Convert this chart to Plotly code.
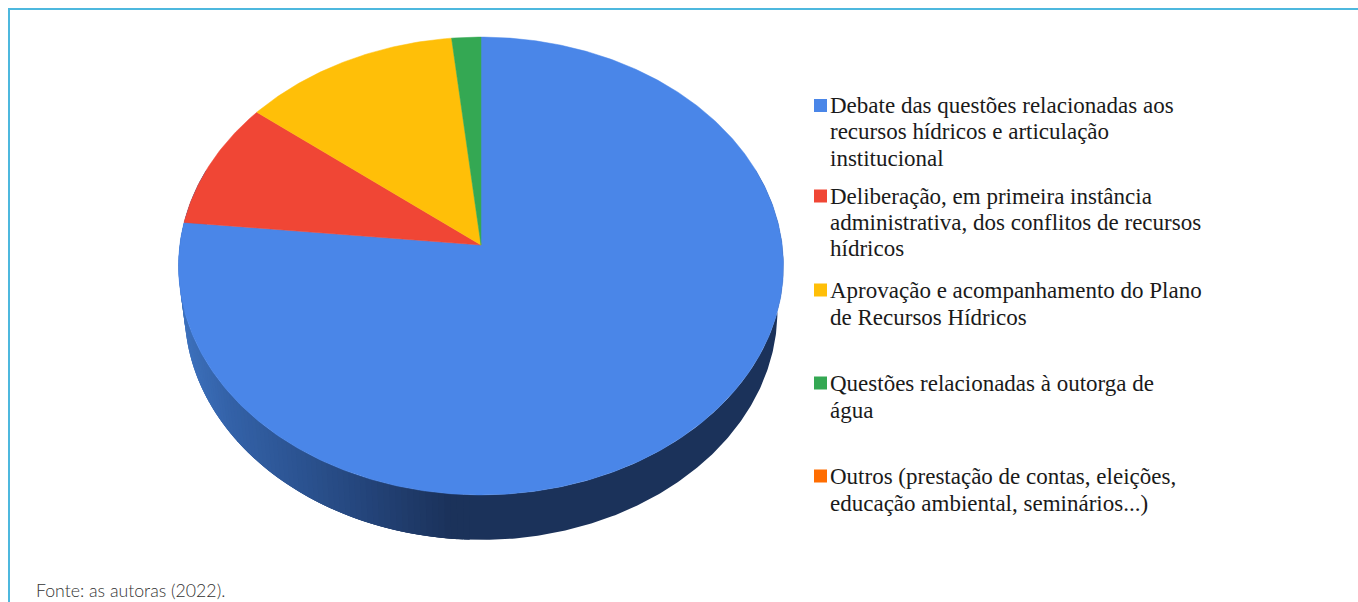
import numpy as np
import plotly.graph_objects as go

categories = [
    "Debate das questões relacionadas aos recursos hídricos e articulação institucional",
    "Deliberação, em primeira instância administrativa, dos conflitos de recursos hídricos",
    "Aprovação e acompanhamento do Plano de Recursos Hídricos",
    "Questões relacionadas à outorga de água",
    "Outros (prestação de contas, eleições, educação ambiental, seminários...)",
]
values = [76.6, 9.0, 12.7, 1.7, 0.0]
colors = ["#4A86E8", "#F04635", "#FFBF08", "#34A853", "#FF6D01"]
legend_lines = [
    ["Debate das questões relacionadas aos", "recursos hídricos e articulação", "institucional"],
    ["Deliberação, em primeira instância", "administrativa, dos conflitos de recursos", "hídricos"],
    ["Aprovação e acompanhamento do Plano", "de Recursos Hídricos"],
    ["Questões relacionadas à outorga de", "água"],
    ["Outros (prestação de contas, eleições,", "educação ambiental, seminários...)"],
]
marker_y = [105.5, 196, 290, 383, 476]
line_y = [[105, 131.5, 158], [196.5, 222, 248], [290.5, 317], [383, 410], [476, 503]]
source_text = "Fonte: as autoras (2022)."

# Pie geometry: a perspective view of a disc
CX, CY = 481.0, 245.0
A, K, C = 227.0, 0.0917, 301.2
DEPTH = 45.0
BASE_SCALE = 0.98


def project(theta):
    """theta: radians, clockwise from 12 o'clock, on the unit disc."""
    u, v = np.sin(theta), np.cos(theta)
    w = 1 + K * v
    return CX + C * u / w, CY - A * v / w


def side_color(x):
    stops_x = [180, 230, 300, 380, 455, 790]
    stops = [(62, 114, 190), (52, 98, 168), (44, 84, 146), (35, 66, 118), (27, 50, 90), (27, 51, 90)]
    return "rgb(%d,%d,%d)" % tuple(np.interp(x, stops_x, [s[i] for s in stops]) for i in range(3))


def wall(a, b, color):
    t = np.linspace(a, b, max(int(np.degrees(b - a)) * 2, 3))
    x, y = project(t)
    xb = CX + BASE_SCALE * (x - CX)
    yb = y + DEPTH
    return go.Scatter(x=np.r_[x, xb[::-1], x[0]], y=np.r_[y, yb[::-1], y[0]], mode="lines",
                      fill="toself", fillcolor=color, line=dict(width=0),
                      hoverinfo="skip", showlegend=False)


fig = go.Figure()

# Side wall: flat dark part on the right, then overlapping strips towards the left
DARK_END = np.radians(183)
fig.add_trace(wall(np.radians(70), DARK_END, side_color(600)))
edges = np.radians(np.linspace(np.degrees(DARK_END) - 1, 290, 100))
for i in range(len(edges) - 1):
    end = edges[min(i + 3, len(edges) - 1)]
    px, _ = project(np.array([edges[i]]))
    fig.add_trace(wall(edges[i], end, side_color(px[0])))

# Top surface slices, drawn clockwise from 12 o'clock
total = sum(values)
start = 0.0
for name, val, col in zip(categories, values, colors):
    if val > 0:
        sweep = val / total * 2 * np.pi
        t = np.linspace(start, start + sweep, max(int(val * 6), 12))
        x, y = project(t)
        fig.add_trace(go.Scatter(x=np.r_[CX, x, CX], y=np.r_[CY, y, CY], mode="lines",
                                 fill="toself", fillcolor=col, line=dict(color=col, width=0.5),
                                 name=name, hoverinfo="name", showlegend=False))
        start += sweep

# Legend
fig.add_trace(go.Scatter(x=[820.5] * len(colors), y=marker_y, mode="markers",
                         marker=dict(symbol="square", size=13, color=colors),
                         hoverinfo="skip", showlegend=False))
annotations = []
for ys, lines in zip(line_y, legend_lines):
    for yv, line in zip(ys, lines):
        annotations.append(dict(x=827.5, y=yv, text=line, xref="x", yref="y",
                                xanchor="left", yanchor="middle", showarrow=False,
                                font=dict(family="Liberation Serif", size=23, color="#1a1a1a")))
annotations.append(dict(x=34, y=590, text=source_text, xref="x", yref="y", xanchor="left",
                        yanchor="middle", showarrow=False,
                        font=dict(family="Lato", size=17.7, weight=300, color="#333333")))

shapes = [
    dict(type="line", xref="x", yref="y", x0=9, y0=9, x1=1358, y1=9, line=dict(color="#4DB8DE", width=2)),
    dict(type="line", xref="x", yref="y", x0=9, y0=8, x1=9, y1=602, line=dict(color="#4DB8DE", width=2)),
]

fig.update_layout(
    width=1358, height=602, margin=dict(l=0, r=0, t=0, b=0),
    paper_bgcolor="white", plot_bgcolor="white", showlegend=False,
    xaxis=dict(range=[0, 1358], visible=False, fixedrange=True),
    yaxis=dict(range=[602, 0], visible=False, fixedrange=True),
    annotations=annotations, shapes=shapes,
)
fig.write_html("out.html", config=dict(displayModeBar=False),
               post_script="document.body.style.margin='0';document.body.style.overflow='hidden';")
